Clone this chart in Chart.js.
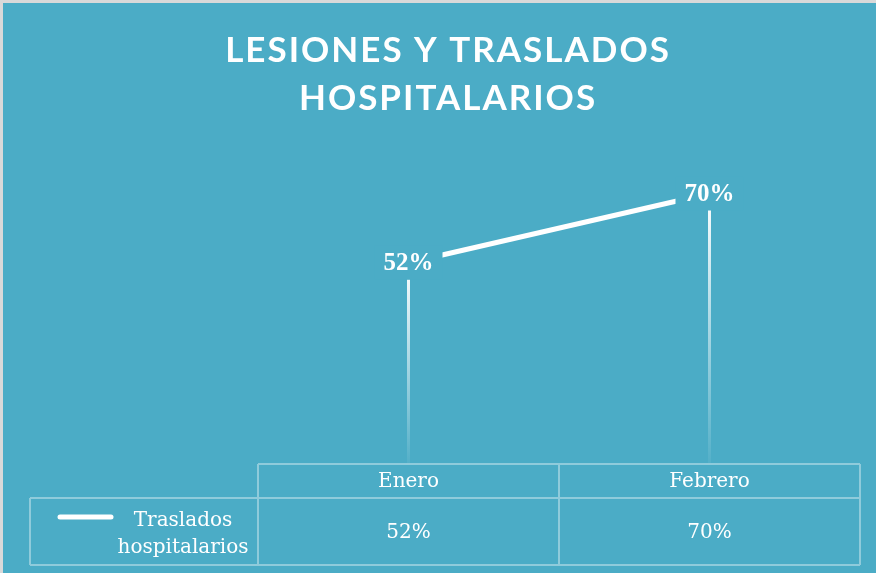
<!DOCTYPE html>
<html>
<head>
    <title>Lesiones y traslados hospitalarios</title>
    <script src="https://cdn.jsdelivr.net/npm/chart.js"></script>
    <style>
        html, body { margin: 0; padding: 0; background: #4BACC6; }
        .chart-container { width: 876px; height: 573px; position: relative; }
    </style>
</head>
<body>
    <div class="chart-container">
        <canvas id="chart"></canvas>
    </div>

    <script>
        // Data
        const titleLines = ['LESIONES Y TRASLADOS', 'HOSPITALARIOS'];
        const months = ['Enero', 'Febrero'];
        const seriesName = ['Traslados', 'hospitalarios'];
        const traslados = [52, 70];

        const BG = '#4BACC6';
        const GRID = 'rgba(255,255,255,0.38)';
        const serifFont = '"DejaVu Serif", serif';

        // grey frame + title
        const framePlugin = {
            id: 'frame',
            beforeDraw(chart) {
                const ctx = chart.ctx;
                ctx.save();
                ctx.fillStyle = BG;
                ctx.fillRect(0, 0, chart.width, chart.height);
                ctx.fillStyle = '#d9d9d9';
                ctx.fillRect(0, 0, chart.width, 3);
                ctx.fillRect(0, 0, 3, chart.height);
                ctx.restore();
            },
            afterDraw(chart) {
                const ctx = chart.ctx;
                ctx.save();
                ctx.fillStyle = '#ffffff';
                ctx.font = 'bold 35px Lato, sans-serif';
                ctx.letterSpacing = '2px';
                ctx.textAlign = 'center';
                ctx.textBaseline = 'alphabetic';
                ctx.fillText(titleLines[0], 448, 62);
                ctx.fillText(titleLines[1], 448, 110);
                ctx.restore();
            }
        };

        // fading drop lines from each point down to the axis
        const dropLinePlugin = {
            id: 'dropLines',
            beforeDatasetsDraw(chart) {
                const ctx = chart.ctx;
                const bottom = chart.chartArea.bottom;
                const meta = chart.getDatasetMeta(0);
                ctx.save();
                meta.data.forEach(pt => {
                    const g = ctx.createLinearGradient(0, pt.y, 0, bottom);
                    g.addColorStop(0, 'rgba(255,255,255,1)');
                    g.addColorStop(1, 'rgba(255,255,255,0.05)');
                    ctx.strokeStyle = g;
                    ctx.lineWidth = 3;
                    ctx.beginPath();
                    ctx.moveTo(pt.x, pt.y);
                    ctx.lineTo(pt.x, bottom);
                    ctx.stroke();
                });
                ctx.restore();
            }
        };

        // data labels centred on the points, with a box that hides the line
        const labelPlugin = {
            id: 'pointLabels',
            afterDatasetsDraw(chart) {
                const ctx = chart.ctx;
                const meta = chart.getDatasetMeta(0);
                ctx.save();
                meta.data.forEach((pt, i) => {
                    ctx.fillStyle = BG;
                    ctx.fillRect(pt.x - 34, pt.y - 17, 68, 34);
                    ctx.fillStyle = '#ffffff';
                    ctx.font = 'bold 25px "Liberation Serif", serif';
                    ctx.textAlign = 'center';
                    ctx.textBaseline = 'middle';
                    ctx.fillText(traslados[i] + '%', pt.x, pt.y + 1);
                });
                ctx.restore();
            }
        };

        // data table under the plot
        const tablePlugin = {
            id: 'dataTable',
            afterDraw(chart) {
                const ctx = chart.ctx;
                const area = chart.chartArea;
                const x = chart.scales.x;
                const top = area.bottom + 1;
                const rowMid = top + 34;
                const bottom = 565;
                const legendLeft = 30;

                ctx.save();
                ctx.strokeStyle = GRID;
                ctx.lineWidth = 2;
                ctx.beginPath();
                ctx.moveTo(area.left, top); ctx.lineTo(area.right, top);
                ctx.moveTo(legendLeft, rowMid); ctx.lineTo(area.right, rowMid);
                ctx.moveTo(legendLeft, bottom); ctx.lineTo(area.right, bottom);
                ctx.moveTo(legendLeft, rowMid); ctx.lineTo(legendLeft, bottom);
                ctx.moveTo(area.left, top); ctx.lineTo(area.left, bottom);
                for (let i = 0; i < months.length; i++) {
                    const c = x.getPixelForValue(i);
                    const next = i < months.length - 1 ? x.getPixelForValue(i + 1) : null;
                    const edge = next !== null ? (c + next) / 2 : area.right;
                    ctx.moveTo(edge, top); ctx.lineTo(edge, bottom);
                }
                ctx.stroke();

                ctx.fillStyle = '#ffffff';
                ctx.font = '20px ' + serifFont;
                ctx.textAlign = 'center';
                ctx.textBaseline = 'middle';
                months.forEach((m, i) => {
                    const c = x.getPixelForValue(i);
                    ctx.fillText(m, c, top + 18);
                    ctx.fillText(traslados[i] + '%', c, (rowMid + bottom) / 2 + 1);
                });

                // legend key
                ctx.strokeStyle = '#ffffff';
                ctx.lineWidth = 5;
                ctx.lineCap = 'round';
                ctx.beginPath();
                ctx.moveTo(60, 517); ctx.lineTo(111, 517);
                ctx.stroke();
                ctx.textBaseline = 'alphabetic';
                ctx.fillText(seriesName[0], 183, 526);
                ctx.fillText(seriesName[1], 183, 553);
                ctx.restore();
            }
        };

        const ctx = document.getElementById('chart').getContext('2d');
        new Chart(ctx, {
            type: 'line',
            data: {
                labels: months,
                datasets: [{
                    label: seriesName.join(' '),
                    data: traslados,
                    borderColor: '#ffffff',
                    borderWidth: 5,
                    pointRadius: 0,
                    tension: 0
                }]
            },
            options: {
                responsive: true,
                maintainAspectRatio: false,
                animation: false,
                layout: {
                    padding: { left: 258, right: 16, top: 155, bottom: 110 }
                },
                scales: {
                    x: { display: false, offset: true },
                    y: { display: false, min: 0, max: 80 }
                },
                plugins: {
                    legend: { display: false },
                    title: { display: false },
                    tooltip: { enabled: false }
                }
            },
            plugins: [framePlugin, dropLinePlugin, labelPlugin, tablePlugin]
        });
    </script>
</body>
</html>
